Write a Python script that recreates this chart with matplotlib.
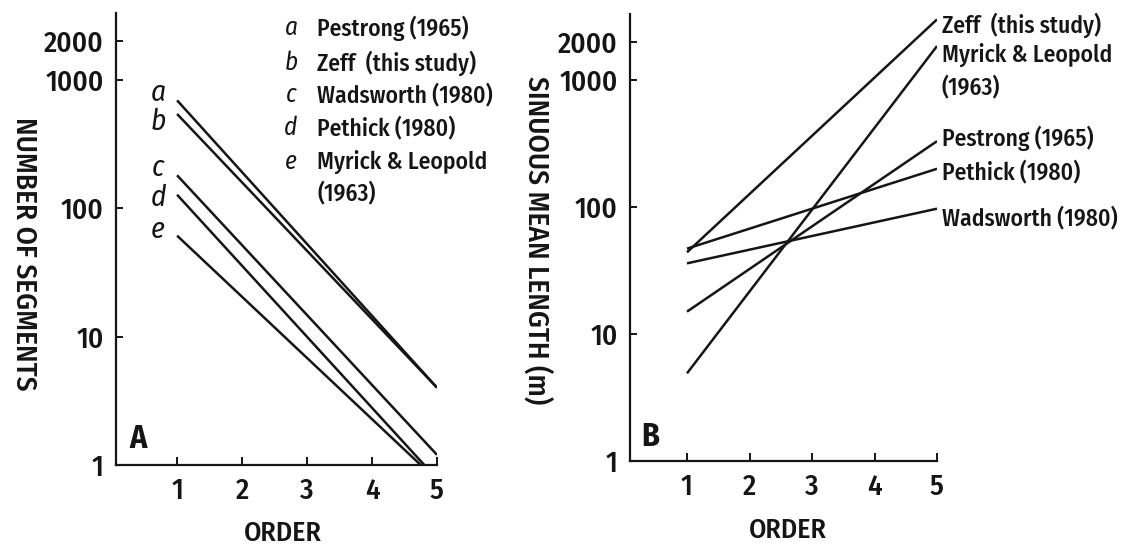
import matplotlib
matplotlib.use("Agg")
import matplotlib.pyplot as plt
from matplotlib import font_manager

names = {f.name for f in font_manager.fontManager.ttflist}
FONT = "DejaVu Sans"
for cand in ["Fira Sans Condensed", "PT Sans Narrow", "Roboto Condensed", "Asap Condensed",
             "Open Sans Condensed", "IBM Plex Sans Condensed", "Archivo Narrow"]:
    if cand in names:
        FONT = cand
        break
plt.rcParams['font.family'] = [FONT, 'DejaVu Sans']
plt.rcParams['font.weight'] = 'medium'

# ---- data ----
order_ends = [1, 5]
ticks_x = [1, 2, 3, 4, 5]
ticks_y = [1, 10, 100, 1000, 2000]
tick_y_labels = ["1", "10", "100", "1000", "2000"]

# Panel A: number of segments (values at order 1 and order 5)
a_letters = ["a", "b", "c", "d", "e"]
a_names = ["Pestrong (1965)", "Zeff  (this study)", "Wadsworth (1980)",
           "Pethick (1980)", "Myrick & Leopold", "(1963)"]
a_start = [690, 540, 180, 127, 61]
a_end = [4.0, 4.0, 1.2, 0.78, 0.76]

# Panel B: sinuous mean length (values at order 1 and order 5)
b_names = ["Zeff  (this study)", "Myrick & Leopold", "(1963)", "Pestrong (1965)",
           "Pethick (1980)", "Wadsworth (1980)"]
b_start = [44, 4.9, 15, 47, 36]
b_end = [3000, 1850, 330, 200, 97]

LC = "#151515"
W, H = 1130, 547
fig = plt.figure(figsize=(W / 100, H / 100), dpi=100)
YTOP = 3300

def fx(px):
    return px / W

def fy(py):
    return 1 - py / H

def style(ax, xlim):
    ax.set_yscale("log")
    ax.set_ylim(1, YTOP)
    ax.set_xlim(*xlim)
    for s in ["top", "right"]:
        ax.spines[s].set_visible(False)
    for s in ["left", "bottom"]:
        ax.spines[s].set_linewidth(1.6)
        ax.spines[s].set_color(LC)
    ax.set_yticks(ticks_y)
    ax.set_yticklabels(tick_y_labels)
    ax.minorticks_off()
    ax.set_xticks(ticks_x)
    ax.tick_params(axis="y", direction="in", length=5, width=1.4, labelsize=21, pad=9, colors=LC)
    ax.tick_params(axis="x", direction="in", length=6, width=1.4, labelsize=21, pad=8, colors=LC)

TXT = 17

# Panel A
axA = fig.add_axes([fx(116), fy(465), (437 - 116) / W, (465 - 13) / H])
style(axA, (0.06, 5.0))
for s, e in zip(a_start, a_end):
    axA.plot(order_ends, [s, e], color=LC, lw=1.8, solid_capstyle="butt")
label_y = [93, 122, 168, 198, 230]
for L, yy in zip(a_letters, label_y):
    fig.text(fx(158), fy(yy), L, fontsize=21, style="italic", fontweight="normal",
             ha="center", va="center", color=LC)
leg_y = [28, 63, 95, 128, 162, 193]
for i, (n, yy) in enumerate(zip(a_names, leg_y)):
    if i < len(a_letters):
        fig.text(fx(291), fy(yy), a_letters[i], fontsize=TXT + 1, style="italic", fontweight="normal",
                 ha="center", va="center", color=LC)
    fig.text(fx(317), fy(yy), n, fontsize=TXT, ha="left", va="center", color=LC)
fig.text(fx(138), fy(439), "A", fontsize=23, fontweight="bold", ha="center", va="center", color=LC)
fig.text(fx(24), fy(254), "NUMBER OF SEGMENTS", rotation=270, fontsize=21, ha="center", va="center", color=LC)
fig.text(fx(283), fy(533), "ORDER", fontsize=20, ha="center", va="center", color=LC)

# Panel B
b_bottom = 461
b_top = b_bottom - 127 * 3.5185
axB = fig.add_axes([fx(630), fy(b_bottom), (937 - 630) / W, (b_bottom - b_top) / H])
style(axB, (0.088, 5.0))
for s, e in zip(b_start, b_end):
    axB.plot(order_ends, [s, e], color=LC, lw=1.8, solid_capstyle="butt")
b_label_y = [25, 55, 87, 138, 172, 218]
for n, yy in zip(b_names, b_label_y):
    fig.text(fx(942), fy(yy), n, fontsize=TXT, ha="left", va="center", color=LC)
fig.text(fx(650), fy(437), "B", fontsize=23, fontweight="bold", ha="center", va="center", color=LC)
fig.text(fx(537), fy(240), "SINUOUS MEAN LENGTH (m)", rotation=270, fontsize=21, ha="center", va="center", color=LC)
fig.text(fx(788), fy(530), "ORDER", fontsize=20, ha="center", va="center", color=LC)

fig.savefig("out.png", dpi=100)
